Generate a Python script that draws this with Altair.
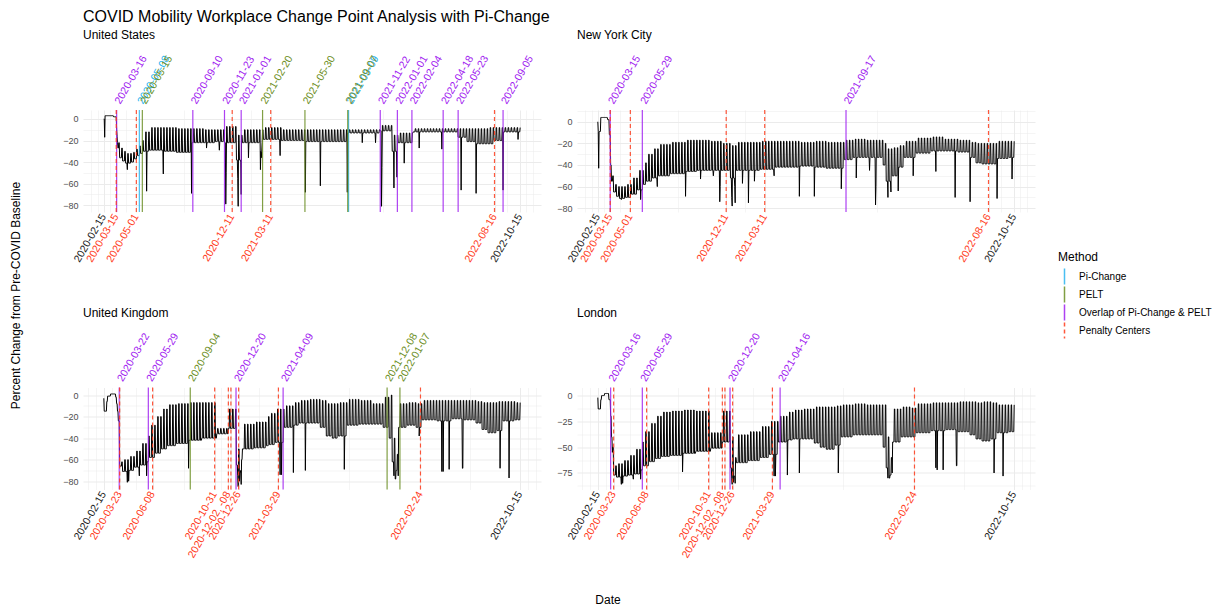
import altair as alt
import numpy as np
import pandas as pd

# ---------------- text ----------------
TITLE = "COVID Mobility Workplace Change Point Analysis with Pi-Change"
Y_TITLE = "Percent Change from Pre-COVID Baseline"
X_TITLE = "Date"
METHODS = ["Pi-Change", "PELT", "Overlap of Pi-Change & PELT", "Penalty Centers"]
METHOD_COLORS = ["#2AB4F0", "#6B8E23", "#A020F0", "#FF3A1A"]
START, END = "2020-02-15", "2022-10-15"

# ---------------- United States ----------------
us_seg_start = ["2020-02-15", "2020-02-18", "2020-03-09", "2020-03-16", "2020-03-17", "2020-03-18", "2020-03-19",
                "2020-03-23", "2020-03-30", "2020-04-06", "2020-04-20", "2020-04-27", "2020-05-04", "2020-05-11",
                "2020-05-18", "2020-06-01", "2020-07-06", "2020-08-03", "2020-09-08", "2020-10-05", "2020-11-02",
                "2020-11-23", "2020-12-21", "2021-01-04", "2021-02-22", "2021-04-05", "2021-06-01", "2021-09-07",
                "2021-11-22", "2021-12-20", "2022-01-03", "2022-02-07", "2022-04-18", "2022-05-23", "2022-06-13",
                "2022-07-05", "2022-08-01", "2022-08-15", "2022-09-06"]
us_weekday = [0, 3, 2, -10, -16, -22, -27, -36, -39, -41, -40, -37, -34, -32, -30, -29, -30, -31, -22, -22, -21,
              -22, -38, -22, -19, -20, -21, -13, -11, -30, -22, -12, -12, -17, -21, -23, -23, -20, -12]
us_weekend = [0, 3, 2, -8, -16, -22, -22, -27, -30, -32, -31, -28, -25, -20, -12, -8, -8, -9, -9, -10, -10,
              -7, -15, -10, -8, -10, -10, -10, -6, -15, -13, -9, -9, -9, -9, -9, -8, -8, -8]
us_hol_dates = ["2020-02-17", "2020-04-10", "2020-05-25", "2020-07-03", "2020-09-07", "2020-10-12", "2020-11-11",
                "2020-11-26", "2020-11-27", "2020-12-24", "2020-12-25", "2020-12-31", "2021-01-01", "2021-01-18",
                "2021-02-15", "2021-02-16", "2021-02-17", "2021-02-18", "2021-04-02", "2021-05-31", "2021-07-05",
                "2021-09-06", "2021-10-11", "2021-11-11", "2021-11-25", "2021-11-26", "2021-12-24", "2021-12-31",
                "2022-01-17", "2022-02-21", "2022-04-15", "2022-05-30", "2022-07-04", "2022-09-05", "2022-10-10"]
us_hol_vals = [-17, -47, -67, -51, -69, -27, -29, -79, -50, -55, -81, -40, -70, -36, -47, -30, -36, -30, -34,
               -68, -62, -68, -22, -22, -81, -45, -64, -54, -41, -27, -28, -66, -69, -66, -19]
us_pi = ["2020-05-08", "2021-09-09"]
us_pelt = ["2020-05-15", "2021-02-20", "2021-05-30", "2021-09-07"]
us_overlap = ["2020-03-16", "2020-09-10", "2020-11-23", "2021-01-01", "2021-11-22", "2022-01-01", "2022-02-04",
              "2022-04-18", "2022-05-23", "2022-09-05"]
us_penalty = ["2020-03-15", "2020-05-01", "2020-12-11", "2021-03-11", "2022-08-16"]
us_penalty_labels = ["2020-03-15", "2020-05-01", "2020-12-11", "2021-03-11", "2022-08-16"]

# ---------------- New York City ----------------
nyc_seg_start = ["2020-02-15", "2020-02-22", "2020-03-09", "2020-03-13", "2020-03-16", "2020-03-18", "2020-03-23",
                 "2020-03-30", "2020-04-06", "2020-04-20", "2020-05-04", "2020-05-18", "2020-06-01", "2020-06-08",
                 "2020-06-22", "2020-07-06", "2020-08-03", "2020-09-08", "2020-10-05", "2020-11-02", "2020-11-30",
                 "2020-12-21", "2021-01-04", "2021-03-01", "2021-04-05", "2021-06-01", "2021-07-06", "2021-08-02",
                 "2021-09-13", "2021-10-04", "2021-11-01", "2021-12-13", "2021-12-20", "2022-01-03", "2022-01-17",
                 "2022-01-31", "2022-02-28", "2022-04-04", "2022-05-02", "2022-06-06", "2022-07-05", "2022-07-18",
                 "2022-08-01", "2022-09-06", "2022-10-03"]
nyc_weekday = [-9, 4, 2, -12, -40, -55, -65, -69, -71, -70, -67, -63, -58, -55, -52, -50, -48, -46, -45, -45,
               -45, -52, -45, -44, -42, -41, -42, -43, -35, -33, -33, -40, -55, -50, -42, -33, -29, -27, -27, -28,
               -33, -38, -39, -34, -33]
nyc_weekend = [-9, 4, 2, -12, -35, -50, -58, -60, -60, -58, -52, -45, -38, -30, -25, -21, -19, -17, -17, -18,
               -20, -22, -19, -18, -18, -19, -18, -19, -17, -16, -17, -20, -25, -24, -22, -18, -15, -14, -16, -17,
               -19, -20, -20, -18, -18]
nyc_hol_dates = ["2020-02-15", "2020-02-17", "2020-04-10", "2020-05-25", "2020-07-03", "2020-09-07", "2020-10-12",
                 "2020-11-11", "2020-11-26", "2020-11-27", "2020-12-24", "2020-12-25", "2020-12-31", "2021-01-01",
                 "2021-01-18", "2021-02-01", "2021-02-15", "2021-04-02", "2021-05-31", "2021-07-05", "2021-09-06",
                 "2021-10-11", "2021-11-11", "2021-11-25", "2021-11-26", "2021-12-24", "2021-12-31", "2022-01-17",
                 "2022-02-21", "2022-04-15", "2022-05-30", "2022-07-04", "2022-09-05", "2022-10-10"]
nyc_hol_vals = [0, -43, -72, -72, -60, -69, -53, -50, -74, -60, -70, -78, -60, -75, -57, -75, -55, -50, -69, -69,
                -62, -52, -45, -77, -60, -70, -65, -64, -50, -46, -70, -74, -71, -53]
nyc_pi = []
nyc_pelt = []
nyc_overlap = ["2020-03-15", "2020-05-29", "2021-09-17"]
nyc_penalty = ["2020-03-15", "2020-05-01", "2020-12-11", "2021-03-11", "2022-08-16"]
nyc_penalty_labels = ["2020-03-15", "2020-05-01", "2020-12-11", "2021-03-11", "2022-08-16"]

# ---------------- United Kingdom ----------------
uk_seg_start = ["2020-02-15", "2020-02-22", "2020-02-24", "2020-03-02", "2020-03-14", "2020-03-16", "2020-03-18",
                "2020-03-20", "2020-03-23", "2020-03-30", "2020-04-13", "2020-04-27", "2020-05-11", "2020-05-25",
                "2020-06-01", "2020-06-15", "2020-06-29", "2020-07-13", "2020-08-03", "2020-09-01", "2020-10-01",
                "2020-11-05", "2020-12-02", "2020-12-21", "2020-12-28", "2021-01-04", "2021-02-01", "2021-03-01",
                "2021-03-08", "2021-03-22", "2021-04-12", "2021-05-03", "2021-05-17", "2021-06-07", "2021-07-05",
                "2021-07-19", "2021-08-02", "2021-08-16", "2021-09-06", "2021-10-04", "2021-11-01", "2021-11-29",
                "2021-12-13", "2021-12-20", "2021-12-27", "2022-01-04", "2022-01-24", "2022-02-14", "2022-02-28",
                "2022-04-04", "2022-05-09", "2022-06-06", "2022-07-04", "2022-07-18", "2022-08-01", "2022-08-22",
                "2022-09-05", "2022-10-03"]
uk_weekday = [-15, -6, -1, 1, -2, -8, -15, -24, -66, -71, -70, -67, -65, -62, -58, -54, -50, -47, -45, -42, -40,
              -36, -31, -65, -72, -50, -49, -47, -46, -44, -30, -28, -26, -26, -30, -38, -40, -38, -28, -27, -27,
              -30, -40, -62, -70, -30, -28, -30, -23, -24, -22, -23, -26, -32, -35, -33, -24, -23]
uk_weekend = [-15, -6, -1, 1, -2, -8, -15, -24, -62, -60, -57, -52, -45, -38, -28, -20, -13, -9, -8, -7, -7,
              -31, -13, -50, -60, -27, -25, -20, -17, -13, -10, -7, -5, -4, -5, -8, -8, -7, -4, -5, -8,
              -2, 0, -40, -55, -8, -7, -8, -5, -5, -5, -5, -6, -7, -7, -6, -6, -7]
uk_hol_dates = ["2020-02-15", "2020-04-10", "2020-04-13", "2020-05-08", "2020-05-25", "2020-08-31", "2020-12-24",
                "2020-12-25", "2020-12-28", "2020-12-31", "2021-01-01", "2021-04-02", "2021-04-05", "2021-05-03",
                "2021-05-31", "2021-08-30", "2021-12-24", "2021-12-27", "2021-12-28", "2022-01-03", "2022-02-21",
                "2022-04-15", "2022-04-18", "2022-05-02", "2022-06-02", "2022-06-03", "2022-08-29", "2022-09-19"]
uk_hol_vals = [-3, -81, -80, -75, -75, -68, -75, -85, -80, -70, -83, -74, -74, -72, -70, -69, -75, -78, -78, -75,
               -38, -71, -71, -69, -68, -68, -68, -77]
uk_pi = []
uk_pelt = ["2020-09-04", "2021-12-08", "2022-01-07"]
uk_overlap = ["2020-03-22", "2020-05-29", "2020-12-20", "2021-04-09"]
uk_penalty = ["2020-03-23", "2020-06-08", "2020-10-31", "2020-12-02", "2020-12-08", "2020-12-26", "2021-03-29",
              "2022-02-24"]
uk_penalty_labels = ["2020-03-23", "2020-06-08", "2020-10-31", "2020-12-02, -08", "", "2020-12-26", "2021-03-29",
                     "2022-02-24"]

# ---------------- London ----------------
lon_seg_start = ["2020-02-15", "2020-02-22", "2020-02-24", "2020-03-02", "2020-03-12", "2020-03-16", "2020-03-18",
                 "2020-03-20", "2020-03-23", "2020-03-30", "2020-04-13", "2020-04-27", "2020-05-11", "2020-05-25",
                 "2020-06-01", "2020-06-15", "2020-06-29", "2020-07-13", "2020-08-03", "2020-09-01", "2020-10-01",
                 "2020-11-05", "2020-12-02", "2020-12-21", "2020-12-28", "2021-01-04", "2021-02-01", "2021-03-01",
                 "2021-03-22", "2021-04-12", "2021-05-03", "2021-05-17", "2021-06-07", "2021-07-05", "2021-07-19",
                 "2021-08-02", "2021-08-23", "2021-09-06", "2021-10-04", "2021-11-01", "2021-12-13", "2021-12-20",
                 "2021-12-27", "2022-01-04", "2022-01-24", "2022-02-14", "2022-02-28", "2022-04-04", "2022-05-09",
                 "2022-06-06", "2022-07-04", "2022-07-18", "2022-08-01", "2022-08-22", "2022-09-05", "2022-10-03"]
lon_weekday = [-13, -4, 0, 2, -4, -20, -40, -55, -77, -79, -78, -77, -76, -72, -68, -64, -61, -59, -58, -56, -54,
               -51, -45, -70, -78, -65, -63, -60, -57, -45, -43, -42, -42, -46, -50, -52, -48, -40, -38, -38, -50,
               -70, -77, -45, -40, -40, -36, -34, -33, -35, -38, -42, -44, -42, -36, -35]
lon_weekend = [-13, -4, 0, 2, -4, -18, -35, -50, -68, -66, -63, -58, -52, -45, -35, -27, -20, -16, -15, -14, -15,
               -36, -15, -40, -60, -38, -35, -30, -25, -20, -16, -14, -13, -11, -11, -11, -10, -9, -8, -9, -9,
               -40, -60, -13, -11, -12, -8, -7, -7, -6, -6, -7, -6, -7, -9, -9]
lon_hol_dates = ["2020-02-15", "2020-04-10", "2020-04-13", "2020-05-08", "2020-05-25", "2020-08-31", "2020-12-24",
                 "2020-12-25", "2020-12-28", "2021-01-01", "2021-04-02", "2021-04-05", "2021-05-03", "2021-05-31",
                 "2021-08-30", "2021-12-24", "2021-12-27", "2021-12-28", "2022-01-03", "2022-04-15", "2022-04-18",
                 "2022-05-02", "2022-06-02", "2022-06-03", "2022-08-29", "2022-09-19"]
lon_hol_vals = [-2, -86, -85, -81, -81, -74, -80, -86, -84, -85, -78, -78, -77, -75, -75, -80, -80, -80, -75, -70,
                -72, -72, -68, -68, -75, -78]
lon_pi = []
lon_pelt = []
lon_overlap = ["2020-03-16", "2020-05-29", "2020-12-20", "2021-04-16"]
lon_penalty = ["2020-03-23", "2020-06-08", "2020-10-31", "2020-12-02", "2020-12-08", "2020-12-26", "2021-03-29",
               "2022-02-24"]
lon_penalty_labels = ["2020-03-23", "2020-06-08", "2020-10-31", "2020-12-02, -08", "", "2020-12-26", "2021-03-29",
                      "2022-02-24"]

# ---------------- helpers ----------------
T0 = pd.Timestamp(START)
N_DAYS = (pd.Timestamp(END) - T0).days
XPAD = 0.05 * N_DAYS
XDOM = [-XPAD, N_DAYS + XPAD]
W, H = 458, 102
GRID = "#EBEBEB"
LABEL_FONT = 10.5


def day(s):
    return (pd.Timestamp(s) - T0).days


def build_series(seg_start, weekday, weekend, hol_dates, hol_vals):
    dates = pd.date_range(START, END, freq="D")
    starts = pd.to_datetime(seg_start).values
    idx = np.searchsorted(starts, dates.values, side="right") - 1
    wk = np.array(weekday, dtype=float)[idx]
    we = np.array(weekend, dtype=float)[idx]
    vals = np.where(dates.dayofweek >= 5, we, wk)
    for d, v in zip(hol_dates, hol_vals):
        vals[day(d)] = v
    return pd.DataFrame({"day": (dates - T0).days, "value": vals})


def minor_breaks(majors, lo, hi):
    b = sorted(majors)
    bd = b[1] - b[0]
    if lo < b[0]:
        b = [b[0] - bd] + b
    if hi > b[-1]:
        b = b + [b[-1] + bd]
    out = []
    for a, c in zip(b[:-1], b[1:]):
        out += [a, (a + c) / 2]
    out.append(b[-1])
    return [v for v in out if lo <= v <= hi and v not in majors]


def is_major(majors):
    return "indexof([" + ",".join(repr(float(v)) for v in majors) + "], datum.value) >= 0"


CSCALE = alt.Scale(domain=METHODS, range=METHOD_COLORS)
DSCALE = alt.Scale(domain=METHODS, range=[[1, 0], [1, 0], [1, 0], [4, 3]])
LEGEND = alt.Legend(title="Method", orient="none", legendX=975, legendY=142, symbolType="M0,-1.4L0,1.4",
                    symbolSize=128, symbolStrokeWidth=1.5, labelFontSize=10, titleFontSize=12,
                    titleFontWeight="normal", titleColor="black", labelColor="black", rowPadding=-7,
                    padding=0, titlePadding=6, labelOffset=8)


def panel(title, line_df, pi, pelt, ovl, pen, pen_labels, ydom, ymaj, extra=()):
    xs = alt.Scale(domain=XDOM, nice=False, zero=False)
    ys = alt.Scale(domain=ydom, nice=False, zero=False)
    xmaj = [0] + [day(d) for d in pen] + [N_DAYS]
    xall = sorted(set(xmaj + minor_breaks(xmaj, *XDOM)))
    yall = sorted(set(ymaj + minor_breaks(ymaj, *ydom)))
    x_axis = alt.Axis(values=xall, grid=True, gridColor=GRID,
                      gridWidth={"condition": {"test": is_major(xmaj), "value": 1.0}, "value": 0.5},
                      labels=False, ticks=False, domain=False, title=None)
    y_axis = alt.Axis(values=yall, grid=True, gridColor=GRID,
                      gridWidth={"condition": {"test": is_major(ymaj), "value": 1.0}, "value": 0.5},
                      labelExpr=is_major(ymaj) + " ? datum.label : ''",
                      ticks=False, domain=False, title=None, labelFontSize=9,
                      labelColor="#4D4D4D", labelPadding=5)

    line = alt.Chart(line_df).mark_line(color="black", strokeWidth=1.0).encode(
        x=alt.X("day:Q", scale=xs, axis=x_axis),
        y=alt.Y("value:Q", scale=ys, axis=y_axis))

    cp_dates = pi + pelt + ovl + pen
    cp_methods = ([METHODS[0]] * len(pi) + [METHODS[1]] * len(pelt) + [METHODS[2]] * len(ovl)
                  + [METHODS[3]] * len(pen))
    cp = pd.DataFrame({"day": [day(d) for d in cp_dates], "method": cp_methods})
    rules = alt.Chart(cp).mark_rule(strokeWidth=1.2, opacity=0.85).encode(
        x=alt.X("day:Q", scale=xs, axis=x_axis),
        color=alt.Color("method:N", scale=CSCALE, legend=LEGEND),
        strokeDash=alt.StrokeDash("method:N", scale=DSCALE, legend=LEGEND))

    top_dates = pi + pelt + ovl
    top_cols = ([METHOD_COLORS[0]] * len(pi) + [METHOD_COLORS[1]] * len(pelt) + [METHOD_COLORS[2]] * len(ovl))
    top_df = pd.DataFrame({"day": [day(d) for d in top_dates], "label": top_dates, "col": top_cols})
    top = alt.Chart(top_df).mark_text(angle=300, align="left", baseline="middle", fontSize=LABEL_FONT, dx=2).encode(
        x=alt.X("day:Q", scale=xs, axis=x_axis), y=alt.value(-5), text="label:N",
        color=alt.Color("col:N", scale=None))

    bot_days = [0] + [day(d) for d in pen] + [N_DAYS]
    bot_labels = [START] + pen_labels + [END]
    bot_cols = ["#1A1A1A"] + [METHOD_COLORS[3]] * len(pen) + ["#1A1A1A"]
    bot_df = pd.DataFrame({"day": bot_days, "label": bot_labels, "col": bot_cols})
    bot_df = bot_df[bot_df["label"] != ""]
    bottom = alt.Chart(bot_df).mark_text(angle=300, align="right", baseline="middle", fontSize=LABEL_FONT).encode(
        x=alt.X("day:Q", scale=xs, axis=x_axis), y=alt.value(H + 3), text="label:N",
        color=alt.Color("col:N", scale=None))

    ptitle = alt.Chart(pd.DataFrame({"t": [title]})).mark_text(
        align="left", baseline="middle", fontSize=12, color="black").encode(
        text="t:N", x=alt.value(0), y=alt.value(-75))

    return alt.layer(line, rules, top, bottom, ptitle, *extra).properties(width=W, height=H)


us_df = build_series(us_seg_start, us_weekday, us_weekend, us_hol_dates, us_hol_vals)
nyc_df = build_series(nyc_seg_start, nyc_weekday, nyc_weekend, nyc_hol_dates, nyc_hol_vals)
uk_df = build_series(uk_seg_start, uk_weekday, uk_weekend, uk_hol_dates, uk_hol_vals)
lon_df = build_series(lon_seg_start, lon_weekday, lon_weekend, lon_hol_dates, lon_hol_vals)

ytitle = alt.Chart(pd.DataFrame({"t": [Y_TITLE]})).mark_text(
    angle=270, fontSize=12, align="center", baseline="middle", color="black").encode(
    text="t:N", x=alt.value(-67), y=alt.value(-92))
xtitle = alt.Chart(pd.DataFrame({"t": [X_TITLE]})).mark_text(
    fontSize=12, align="center", baseline="middle", color="black").encode(
    text="t:N", x=alt.value(525), y=alt.value(212))

us = panel("United States", us_df, us_pi, us_pelt, us_overlap, us_penalty, us_penalty_labels,
           [-86.3, 8.3], [-80, -60, -40, -20, 0])
nyc = panel("New York City", nyc_df, nyc_pi, nyc_pelt, nyc_overlap, nyc_penalty, nyc_penalty_labels,
            [-83.5, 10.9], [-80, -60, -40, -20, 0])
uk = panel("United Kingdom", uk_df, uk_pi, uk_pelt, uk_overlap, uk_penalty, uk_penalty_labels,
           [-87.7, 7.0], [-80, -60, -40, -20, 0], extra=(ytitle, xtitle))
lon = panel("London", lon_df, lon_pi, lon_pelt, lon_overlap, lon_penalty, lon_penalty_labels,
            [-91.0, 7.8], [-75, -50, -25, 0])

chart = alt.concat(us, nyc, uk, lon, columns=2, spacing={"row": 175.5, "column": 36}, bounds="flush").properties(
    title=alt.TitleParams(TITLE, anchor="start", frame="group", fontSize=16, fontWeight="normal",
                          color="black", offset=4),
    padding={"left": 9, "top": 9, "right": 5, "bottom": 1},
).configure(font="Liberation Sans").configure_view(stroke=None)

chart.save("out.html", embed_options={"renderer": "svg", "actions": False})
